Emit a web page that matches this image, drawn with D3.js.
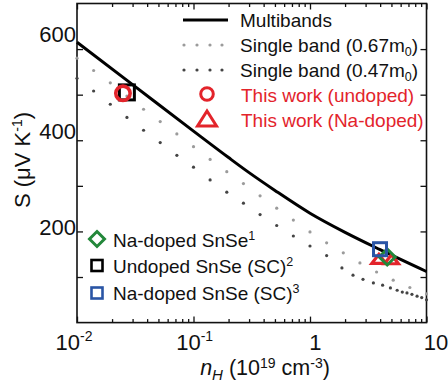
<!DOCTYPE html>
<html><head><meta charset="utf-8">
<script src="https://cdn.jsdelivr.net/npm/d3@7"></script>
<style>
html,body{margin:0;padding:0;background:#fff;}
svg{display:block;font-family:"Liberation Sans",Arial,Helvetica,sans-serif;}
</style></head>
<body><svg id="chart" width="448" height="392"></svg>
<script>
// Seebeck coefficient S versus Hall carrier concentration n_H for SnSe.

// Multiband model (solid line)
const multibandN = [0.01, 0.03, 0.1, 0.2, 0.3, 0.5, 1, 2, 4, 10];
const multibandS = [615, 522, 420, 362, 329, 290, 240, 198, 160, 112];

// Single parabolic band, m* = 0.67 m0 (one entry per plotted dot)
const band067N = [0.01, 0.01389, 0.01931, 0.02683, 0.03728, 0.05179, 0.07197, 0.1,
  0.1389, 0.1931, 0.2683, 0.3728, 0.5179, 0.7197, 1, 1.389, 1.931, 2.683, 3.728,
  5.179, 7.197, 10];
const band067S = [580, 553, 526, 497, 468, 441, 414, 386, 358, 331, 305, 278, 251,
  225, 199, 175, 153, 131, 111, 93, 77, 63];

// Single parabolic band, m* = 0.47 m0 (one entry per plotted dot)
const band047N = [0.01, 0.01389, 0.01931, 0.02683, 0.03728, 0.05179, 0.07197, 0.1,
  0.1389, 0.1931, 0.2683, 0.3728, 0.5179, 0.7197, 1, 1.389, 1.88, 2.34, 2.85, 3.5,
  4.2, 4.9, 5.6, 6.2, 6.8, 7.5, 8.3, 9.1, 10];
const band047S = [536, 508, 479, 450, 422, 395, 367, 341, 313, 286, 262, 237, 213,
  190, 168, 147, 120, 104, 95, 87, 82, 76, 71, 67, 65, 62, 58, 55, 50];

// Measured points
const undopedN = [0.0248];          // This work (undoped)
const undopedS = [503];
const naDopedN = [3.9, 5.0];        // This work (Na-doped)
const naDopedS = [140, 139];
const ref1N = [4.6];                // Na-doped SnSe [1]
const ref1S = [144];
const ref2N = [0.0268];             // Undoped SnSe (SC) [2]
const ref2S = [505];
const ref3N = [3.99];               // Na-doped SnSe (SC) [3]
const ref3S = [161];

// Axis ticks
const xMajorTicks = [0.01, 0.1, 1, 10];
const xTickExp = ["-2", "-1", "", ""];
const xTickBase = ["10", "10", "1", "10"];
const yMajorTicks = [100, 200, 300, 400, 500, 600];
const yTickLabels = [200, 400, 600];

const RED = "#e3242b", GREEN = "#23873a", BLUE = "#2a55a5",
      GREY = "#9b9b9b", DARK = "#444";

const svg = d3.select("#chart");
const L = 77, R = 426.5, T = 3.5, B = 322.6;

const x = d3.scaleLog().domain([0.01, 10]).range([L, R]);
const y = d3.scaleLinear().domain([0, 700]).range([B, T]);
// tick-label placement (labels sit slightly spread relative to the frame)
const xLab = d3.scaleLog().domain([0.01, 10]).range([74, 436]);
const yLab = d3.scaleLinear().domain([200, 600]).range([235, 42]);

// ----- axes (ticks inward, mirrored on all sides)
const minorX = [];
[0.01, 0.1, 1].forEach(d => { for (let k = 2; k <= 9; k++) minorX.push(d * k); });

const ax = svg.append("g");
ax.append("g").attr("transform", `translate(0,${B})`)
  .call(d3.axisBottom(x).tickValues(xMajorTicks).tickSizeInner(-6).tickSizeOuter(0).tickFormat(""));
ax.append("g").attr("transform", `translate(0,${B})`)
  .call(d3.axisBottom(x).tickValues(minorX).tickSizeInner(-3.5).tickSizeOuter(0).tickFormat(""));
ax.append("g").attr("transform", `translate(0,${T})`)
  .call(d3.axisTop(x).tickValues(xMajorTicks).tickSizeInner(-6).tickSizeOuter(0).tickFormat(""));
ax.append("g").attr("transform", `translate(0,${T})`)
  .call(d3.axisTop(x).tickValues(minorX).tickSizeInner(-3.5).tickSizeOuter(0).tickFormat(""));
ax.append("g").attr("transform", `translate(${L},0)`)
  .call(d3.axisLeft(y).tickValues(yMajorTicks).tickSizeInner(-6).tickSizeOuter(0).tickFormat(""));
ax.append("g").attr("transform", `translate(${R},0)`)
  .call(d3.axisRight(y).tickValues(yMajorTicks).tickSizeInner(-6).tickSizeOuter(0).tickFormat(""));
ax.selectAll(".domain").remove();
ax.selectAll("line").attr("stroke", "#111").attr("stroke-width", 1.3);

svg.append("rect").attr("x", L).attr("y", T).attr("width", R - L).attr("height", B - T)
  .attr("fill", "none").attr("stroke", "#111").attr("stroke-width", 1.6);

// tick labels
const xl = svg.append("g").attr("font-size", 22).attr("fill", "#111");
xMajorTicks.forEach((v, i) => {
  const t = xl.append("text").attr("x", xLab(v)).attr("y", 350).attr("text-anchor", "middle");
  t.append("tspan").text(xTickBase[i]);
  if (xTickExp[i]) t.append("tspan").attr("font-size", 14).attr("dy", -9).text(xTickExp[i]);
});
const yl = svg.append("g").attr("font-size", 22).attr("fill", "#111");
yTickLabels.forEach(v => {
  yl.append("text").attr("x", 76).attr("y", yLab(v)).attr("text-anchor", "end").text(v);
});

// axis titles
const xt = svg.append("text").attr("x", 265).attr("y", 375).attr("text-anchor", "middle")
  .attr("font-size", 21.5).attr("fill", "#111");
xt.append("tspan").attr("font-style", "italic").text("n");
xt.append("tspan").attr("font-style", "italic").attr("font-size", 15).attr("dy", 5).text("H");
xt.append("tspan").attr("dy", -5).text(" (10");
xt.append("tspan").attr("font-size", 14).attr("dy", -7).text("19");
xt.append("tspan").attr("dy", 7).text(" cm");
xt.append("tspan").attr("font-size", 14).attr("dy", -7).text("-3");
xt.append("tspan").attr("dy", 7).text(")");

const yt = svg.append("text").attr("transform", "translate(30,160) rotate(-90)")
  .attr("text-anchor", "middle").attr("font-size", 22).attr("fill", "#111");
yt.append("tspan").text("S (\u03bcV K");
yt.append("tspan").attr("font-size", 14).attr("dy", -8).text("-1");
yt.append("tspan").attr("dy", 8).text(")");

// ----- curves
const plot = svg.append("g");
const mb = multibandN.map((n, i) => [x(n), y(multibandS[i])]);
plot.append("path").attr("d", d3.line().curve(d3.curveMonotoneX)(mb))
  .attr("fill", "none").attr("stroke", "#000").attr("stroke-width", 3);

plot.append("g").selectAll("circle").data(band067N).join("circle")
  .attr("cx", d => x(d)).attr("cy", (d, i) => y(band067S[i])).attr("r", 1.6).attr("fill", GREY);
plot.append("g").selectAll("circle").data(band047N).join("circle")
  .attr("cx", d => x(d)).attr("cy", (d, i) => y(band047S[i])).attr("r", 1.6).attr("fill", DARK);

// ----- markers
function square(g, cx, cy, s, color, sw) {
  g.append("rect").attr("x", cx - s / 2).attr("y", cy - s / 2).attr("width", s).attr("height", s)
    .attr("fill", "none").attr("stroke", color).attr("stroke-width", sw);
}
function diamond(g, cx, cy, s, color, sw) {
  g.append("path").attr("d", `M${cx},${cy - s}L${cx + s},${cy}L${cx},${cy + s}L${cx - s},${cy}Z`)
    .attr("fill", "none").attr("stroke", color).attr("stroke-width", sw);
}
function triangle(g, cx, cy, w, h, color, sw) {
  g.append("path").attr("d", `M${cx},${cy - h / 2}L${cx + w / 2},${cy + h / 2}L${cx - w / 2},${cy + h / 2}Z`)
    .attr("fill", "none").attr("stroke", color).attr("stroke-width", sw).attr("stroke-linejoin", "miter");
}
const mk = svg.append("g");
ref2N.forEach((n, i) => square(mk, x(n), y(ref2S[i]), 15, "#000", 3));
undopedN.forEach((n, i) => mk.append("circle").attr("cx", x(n)).attr("cy", y(undopedS[i])).attr("r", 7.2)
  .attr("fill", "none").attr("stroke", RED).attr("stroke-width", 3.6));
naDopedN.forEach((n, i) => triangle(mk, x(n), y(naDopedS[i]), 14, 9, RED, 3.2));
ref1N.forEach((n, i) => diamond(mk, x(n), y(ref1S[i]), 8, GREEN, 3));
ref3N.forEach((n, i) => square(mk, x(n), y(ref3S[i]), 13, BLUE, 3));

// ----- legend (top right)
const lg = svg.append("g").attr("font-size", 19);
const lx = 240;
lg.append("line").attr("x1", 183).attr("x2", 228).attr("y1", 20).attr("y2", 20)
  .attr("stroke", "#000").attr("stroke-width", 3);
lg.append("text").attr("x", lx).attr("y", 27).attr("fill", "#111").text("Multibands");
[184, 197, 210, 222].forEach(cx => {
  lg.append("circle").attr("cx", cx).attr("cy", 45).attr("r", 1.6).attr("fill", GREY);
  lg.append("circle").attr("cx", cx).attr("cy", 70).attr("r", 1.6).attr("fill", DARK);
});
[[52, "0.67"], [77, "0.47"]].forEach(([yy, m]) => {
  const t = lg.append("text").attr("x", lx).attr("y", yy).attr("fill", "#111");
  t.append("tspan").text(`Single band (${m}m`);
  t.append("tspan").attr("font-size", 12.5).attr("dy", 4).text("0");
  t.append("tspan").attr("dy", -4).text(")");
});
lg.append("circle").attr("cx", 207).attr("cy", 94).attr("r", 6.3)
  .attr("fill", "none").attr("stroke", RED).attr("stroke-width", 3);
lg.append("text").attr("x", lx + 1).attr("y", 102).attr("fill", RED).text("This work (undoped)");
triangle(lg, 207, 118.5, 19, 15, RED, 3);
lg.append("text").attr("x", lx + 1).attr("y", 127).attr("fill", RED).text("This work (Na-doped)");

// ----- legend (bottom left)
const lb = svg.append("g").attr("font-size", 19).attr("fill", "#111");
diamond(lb, 97, 239, 7.5, GREEN, 3);
square(lb, 97, 265.5, 11, "#000", 2.6);
square(lb, 97, 293, 11, BLUE, 2.6);
const r1 = lb.append("text").attr("x", 113).attr("y", 247);
r1.append("tspan").text("Na-doped SnSe");
r1.append("tspan").attr("font-size", 12.5).attr("dy", -7).text("1");
const r2 = lb.append("text").attr("x", 113).attr("y", 273);
r2.append("tspan").text("Undoped SnSe (SC)");
r2.append("tspan").attr("font-size", 12.5).attr("dy", -7).text("2");
const r3 = lb.append("text").attr("x", 113).attr("y", 300);
r3.append("tspan").text("Na-doped SnSe (SC)");
r3.append("tspan").attr("font-size", 12.5).attr("dy", -7).text("3");
</script>
</body></html>
